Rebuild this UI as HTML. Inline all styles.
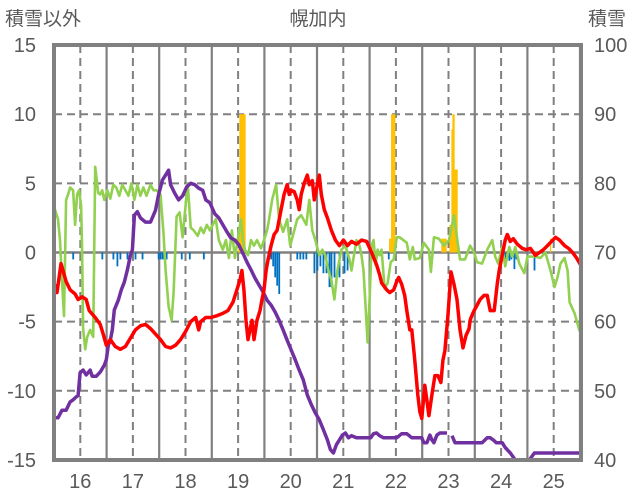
<!DOCTYPE html>
<html><head><meta charset="utf-8"><style>
html,body{margin:0;padding:0;background:#fff;}
svg{display:block;font-family:"Liberation Sans","Noto Sans CJK JP",sans-serif;}
</style></head><body>
<svg id="chart" width="636" height="501" viewBox="0 0 636 501" xmlns="http://www.w3.org/2000/svg">
<text x="318" y="25" font-size="19" fill="#595959" text-anchor="middle">幌加内</text>
<text x="5" y="25" font-size="19" fill="#595959">積雪以外</text>
<text x="588" y="25" font-size="19" fill="#595959">積雪</text>
<g id="grid"></g><g id="bars"></g><g id="lines"></g><g id="frame"></g><g id="ticks"></g>
</svg>
<script>
const leftTicks=[15,10,5,0,-5,-10,-15];
const rightTicks=[100,90,80,70,60,50,40];
const yearLabels=[16,17,18,19,20,21,22,23,24,25];
const redWeeks=[1,3,7,12,16,21,24,28,32,35,41,46,49,52,56,61,66,71,76,81,86,91,96,101,106,111,116,121,126,131,136,141,144,146,151,156,161,168,173,178,182,185,187,189,191,193,195,197,199,202,205,207,209,211,213,216,219,222,226,229,232,234,236,239,242,244,246,249,252,254,257,259,262,264,266,269,272,276,280,284,288,292,296,301,306,311,316,321,324,326,331,334,338,341,343,346,349,351,354,356,359,362,364,366,369,371,373,376,379,382,385,387,389,392,395,398,401,404,407,410,413,414,415,418,421,424,428,431,434,438,441,443,446,449,451,454,457,461,466,470,474,479,483,487,491,495,499,503,508,512,516,520,524];
const redVals=[-2.3,-2.9,-0.8,-2.1,-2.7,-3.0,-3.4,-3.2,-3.4,-4.2,-4.7,-5.2,-5.9,-6.7,-6.3,-6.8,-7.0,-6.8,-6.2,-5.6,-5.3,-5.2,-5.5,-5.9,-6.3,-6.8,-6.9,-6.7,-6.3,-5.7,-5.0,-4.7,-5.6,-5.0,-4.7,-4.7,-4.6,-4.4,-4.2,-3.6,-2.7,-2.0,-1.3,-2.7,-4.9,-6.3,-5.6,-4.9,-6.3,-4.9,-4.2,-3.4,-2.7,-1.3,-0.5,0.5,1.3,1.6,3.1,4.2,4.9,4.2,4.5,4.4,3.8,3.1,4.2,5.0,5.6,4.9,5.2,3.8,4.9,5.6,4.2,3.1,2.5,1.6,0.9,0.5,0.9,0.5,0.8,0.6,0.9,0.8,0.0,-0.9,-1.6,-2.2,-2.7,-2.9,-2.7,-2.1,-1.8,-2.3,-3.1,-4.2,-5.6,-5.6,-7.8,-10.3,-11.5,-12.0,-9.6,-10.7,-11.8,-10.3,-8.9,-8.9,-9.4,-7.8,-7.1,-4.5,-1.4,-2.3,-3.4,-5.6,-6.9,-6.0,-5.5,-4.9,-4.7,-4.2,-3.8,-3.4,-3.1,-3.1,-4.2,-4.2,-2.3,-1.3,-0.2,0.9,1.3,0.8,1.0,0.6,0.3,0.2,0.3,-0.2,0.0,0.2,0.5,0.8,1.1,0.9,0.5,0.3,0.0,-0.4,-0.9];
const greenWeeks=[1,4,6,8,10,12,14,16,19,21,23,25,27,28,29,31,33,36,39,41,44,46,48,50,53,56,59,62,65,68,71,74,77,80,83,86,89,92,96,99,102,106,109,111,114,117,119,122,125,128,133,136,139,143,146,149,152,155,158,161,164,168,171,174,177,180,183,186,188,190,193,196,199,202,206,209,212,214,217,221,224,228,232,235,238,242,246,251,254,257,260,264,267,270,273,276,279,282,286,290,294,296,298,301,304,306,308,310,312,314,316,318,320,322,324,326,329,332,335,338,341,344,351,354,357,359,364,368,373,375,378,383,388,393,398,400,404,409,414,418,421,426,431,436,439,442,446,449,453,456,459,463,468,471,479,484,489,494,498,501,504,508,511,513,518,523];
const greenVals=[3.1,2.4,0.9,-2.0,-4.6,3.8,4.2,4.7,4.5,2.0,4.2,4.5,3.4,0.2,-5.5,-7.0,-6.1,-5.6,-6.1,6.2,4.3,4.2,4.5,3.8,4.5,3.9,4.9,4.7,4.1,4.9,4.5,4.1,5.0,3.8,4.9,4.1,4.7,4.1,4.9,4.5,4.5,4.2,1.4,-1.3,-3.9,-4.9,-2.9,2.6,2.9,1.1,5.0,1.8,1.6,1.2,1.8,1.4,2.0,1.6,2.0,2.4,0.9,0.2,0.9,-0.4,1.6,-0.4,1.0,2.4,0.9,0.2,-0.2,0.9,0.5,0.9,0.3,0.9,1.6,2.4,3.8,4.9,2.4,1.5,2.4,0.5,1.3,2.4,2.7,2.0,3.8,1.6,0.9,-0.2,0.2,-0.2,-1.3,-2.0,-3.4,-1.3,0.2,0.5,-0.5,-1.3,-0.4,0.9,0.5,-0.2,-1.3,-3.8,-6.5,-3.4,0.5,0.9,-0.9,0.2,-0.2,0.2,-2.6,-2.2,-0.7,-0.5,1.1,1.1,0.7,-0.5,0.4,-0.5,-0.4,0.7,0.2,-1.4,1.1,1.0,0.5,0.9,2.7,1.6,-0.5,-0.5,0.5,0.0,-0.7,-0.8,0.2,0.9,-0.3,-0.8,0.4,-1.0,0.4,-0.3,0.4,-0.8,-1.5,-0.3,-0.3,-0.4,0.0,-1.3,-2.5,-1.8,-0.8,-0.4,-1.3,-3.6,-4.4,-5.7];
const purpleWeeks=[1,4,8,12,16,19,22,24,26,29,32,36,38,42,46,50,52,54,56,58,60,64,67,70,73,76,78,80,83,86,91,96,101,104,108,111,114,116,120,124,128,132,136,140,144,148,151,155,160,164,168,172,176,180,184,188,192,196,200,204,208,212,216,220,224,228,232,236,240,244,248,252,256,260,264,268,272,275,278,281,284,287,290,293,296,301,306,311,315,318,321,324,328,334,338,341,346,351,356,361,366,368,371,374,376,378,381,384,388,391,393,396,399,404,411,416,426,431,434,437,440,446,449,454,459,466,473,478,483,491,506,521,524];
const purpleVals=[46.1,46.1,47.2,47.2,48.4,48.7,49.1,49.3,52.6,53.0,52.3,53.0,52.1,52.1,52.7,53.7,54.5,56.6,57.3,58.8,61.7,63.1,64.6,65.7,67.5,69.6,70.4,75.4,75.9,75.0,74.4,74.4,76.1,78.3,80.5,81.2,81.9,79.8,78.6,77.6,78.2,79.5,80.0,79.8,79.3,79.0,77.6,77.2,75.6,75.0,74.0,73.0,72.1,71.8,71.1,69.9,68.6,67.5,66.3,65.3,64.3,63.1,62.4,61.4,60.2,58.8,57.3,55.9,54.5,53.0,51.6,49.4,48.0,46.8,45.8,44.4,42.9,41.5,41.0,42.2,42.9,43.6,43.9,43.2,43.5,43.2,43.2,43.2,43.2,43.8,43.9,43.5,43.2,43.2,43.2,43.2,43.8,43.8,43.2,43.2,43.2,42.5,42.5,43.6,42.9,42.5,43.6,43.9,43.9,43.9,null,43.5,42.5,42.5,42.5,42.5,42.5,43.2,43.2,42.9,42.5,42.5,41.8,41.0,40.0,40.0,40.0,41.0,41.0,41.0,41.0,41.0,41.0];
const blueWeeks=[19,28,48,59,63,66,73,81,88,104,106,108,110,112,127,135,149,216,218,220,222,224,242,245,248,251,259,262,265,268,271,274,276,279,284,289,292,333,449,453,455,458,460,478];
const blueVals=[-0.5,-0.5,-0.5,-0.5,-1.0,-0.5,-0.5,-0.5,-0.5,-0.5,-0.5,-0.5,-0.5,-0.5,-0.5,-0.5,-0.5,-0.5,-1.0,-1.8,-2.4,-3.0,-0.5,-0.5,-0.5,-0.5,-1.5,-1.3,-1.0,-1.5,-1.5,-2.5,-2.5,-1.8,-1.8,-1.5,-1.3,-0.5,-0.6,-0.6,-0.5,-1.2,-0.5,-1.3];
const orangeWeeks=[184,185,186,187,188,189,190,334,335,336,337,338,339,386,387,388,389,390,394,395,396,397,398,399,400,401,494];
const orangeVals=[1.8,10,10,10,10,10,10,1.0,1.0,10,10,10,10,1.0,1.0,1.0,1.0,1.0,2.0,2.0,8.9,10,10,6,6,6,1.0];

const NS='http://www.w3.org/2000/svg';
const L=54,R=581,T=45,B=460;
function xW(w){return L+w*1.005;}
function xYear(y){return 80.3+(y-16)*52.6;}
function yL(v){return 252.5-v*13.83;}
function yR(v){return yL((v-70)/2);}
function mk(tag,attrs,parent){const e=document.createElementNS(NS,tag);for(const k in attrs)e.setAttribute(k,attrs[k]);parent.appendChild(e);return e;}
const grid=document.getElementById('grid'),bars=document.getElementById('bars'),lines=document.getElementById('lines'),frame=document.getElementById('frame'),ticks=document.getElementById('ticks');
// horizontal gridlines
leftTicks.forEach(v=>{if(v===15||v===-15||v===0)return;
 const l=mk('line',{x1:L,x2:R,y1:yL(v),y2:yL(v),stroke:'#808080','stroke-width':2,'stroke-dasharray':'8,5'},grid);
 
 });
// vertical gridlines
yearLabels.forEach(y=>{
 const d=mk('line',{x1:xYear(y),x2:xYear(y),y1:T,y2:B,stroke:'#808080','stroke-width':2,'stroke-dasharray':'8,5'},grid);
 
 
 const s=mk('line',{x1:xYear(y)+26.3,x2:xYear(y)+26.3,y1:T,y2:B,stroke:'#808080','stroke-width':2.2},grid);
 
 });
// bars
blueWeeks.forEach((w,i)=>{const v=blueVals[i];
 const r=mk('rect',{x:xW(w)-0.8,y:yL(0),width:1.8,height:yL(v)-yL(0),fill:'#0070c0'},bars);
 
 });
orangeWeeks.forEach((w,i)=>{const v=orangeVals[i];
 const r=mk('rect',{x:xW(w)-0.6,y:yL(v),width:1.3,height:yL(0)-yL(v),fill:'#ffc000'},bars);
 
 });
// zero line
const z=mk('line',{x1:L,x2:R,y1:yL(0),y2:yL(0),stroke:'#808080','stroke-width':2.5},grid);


function path(ws,vs,yf){let d='',pen=false;ws.forEach((w,i)=>{const v=vs[i];if(v===null){pen=false;return;}d+=(pen?'L':'M')+xW(w).toFixed(1)+','+yf(v).toFixed(1);pen=true;});return d;}
const g=mk('path',{d:path(greenWeeks,greenVals,yL),fill:'none',stroke:'#92d050','stroke-width':2.6,'stroke-linejoin':'round'},lines);


const p=mk('path',{d:path(purpleWeeks,purpleVals,yR),fill:'none',stroke:'#7030a0','stroke-width':3.5,'stroke-linejoin':'round'},lines);


const r=mk('path',{d:path(redWeeks,redVals,yL),fill:'none',stroke:'#ff0000','stroke-width':3.5,'stroke-linejoin':'round'},lines);


const fr=mk('rect',{x:L,y:T,width:R-L,height:B-T,fill:'none',stroke:'#808080','stroke-width':4},frame);


leftTicks.forEach(v=>{const t=mk('text',{x:36,y:yL(v)+7,'font-size':20,fill:'#595959','text-anchor':'end'},ticks);t.textContent=v;
 
 });
rightTicks.forEach(v=>{const t=mk('text',{x:594,y:yR(v)+7,'font-size':20,fill:'#595959'},ticks);t.textContent=v;
 
 });
yearLabels.forEach(y=>{const t=mk('text',{x:xYear(y),y:488,'font-size':20,fill:'#595959','text-anchor':'middle'},ticks);t.textContent=y;
 
 });
</script>
</body></html>
